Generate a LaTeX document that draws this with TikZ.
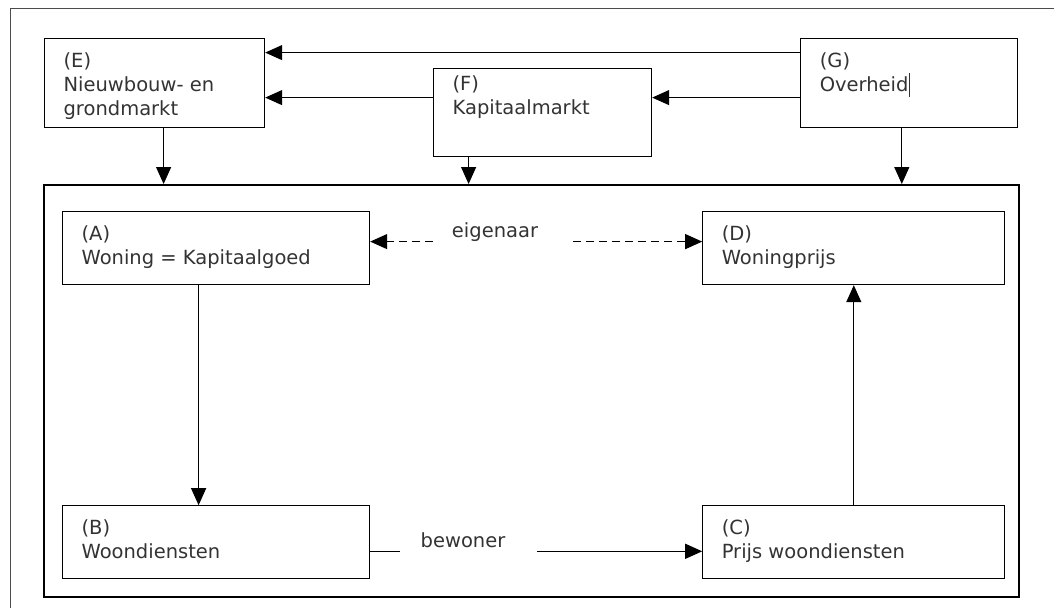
\documentclass[tikz,border=0pt]{standalone}
\usepackage{fontspec}
\setmainfont{DejaVu Sans}
\usepackage{tikz}
\usetikzlibrary{arrows.meta,positioning}

% box text: width, height, first baseline, text
\newcommand{\boxtext}[4]{\parbox[c][#2][t]{#1}{\raggedright\rule{0pt}{#3}#4}}

\begin{document}
\begin{tikzpicture}[
    x=1pt, y=-1pt,
    box/.style={
        draw,
        line width=1.2pt,
        rectangle,
        anchor=north west,
        inner xsep=19pt,
        inner ysep=0pt,
        text=black!80,
        font=\fontsize{19.5}{24}\selectfont
    },
    lbl/.style={
        text=black!80,
        inner xsep=0pt,
        font=\fontsize{19.5}{24}\selectfont
    },
    arrow/.style={
        -{Triangle[length=17pt,width=15pt]},
        line width=1.2pt
    },
    dasharrow/.style={
        -{Triangle[length=17pt,width=15pt]},
        line width=1.2pt,
        dash pattern=on 8pt off 5pt
    }
]
\useasboundingbox (0,0) rectangle (1054,608);

% Page frame
\draw[line width=0.8pt, black!70] (1054,8) -- (10,8) -- (10,608);

% Outer boxes
\node[box] (e) at (44,38) {\boxtext{182pt}{89pt}{29pt}{(E)\\Nieuwbouw- en\\grondmarkt}};
\node[box] (f) at (433,68) {\boxtext{180pt}{88pt}{22pt}{(F)\\Kapitaalmarkt}};
\node[box, right=535pt of e] (g) {\boxtext{179pt}{89pt}{29pt}{(G)\\Overheid\rule[-5pt]{0.8pt}{24pt}}};

% Housing market
\node[draw, line width=2.4pt, anchor=north west, inner sep=0pt,
    minimum width=975pt, minimum height=412pt] (market) at (43,184) {};

% Inner boxes
\node[box] (a) at (62,211) {\boxtext{269pt}{73pt}{29pt}{(A)\\Woning = Kapitaalgoed}};
\node[box, right=332pt of a] (d) {\boxtext{264pt}{73pt}{29pt}{(D)\\Woningprijs}};
\node[box, below=220pt of a] (b) {\boxtext{269pt}{73pt}{29pt}{(B)\\Woondiensten}};
\node[box, below=220pt of d] (c) {\boxtext{264pt}{73pt}{29pt}{(C)\\Prijs woondiensten}};

% Labels
\node[lbl, anchor=base, inner xsep=19pt] (own) at (495,237) {eigenaar};
\node[lbl, anchor=base, inner xsep=20.5pt] (res) at (463,547) {bewoner};

% Connector heights
\coordinate (ae) at ([yshift=6.5pt]a.east);
\coordinate (dw) at ([yshift=6.5pt]d.west);
\coordinate (be) at ([yshift=-9pt]b.east);
\coordinate (cw) at ([yshift=-9pt]c.west);

% Between outer boxes
\draw[arrow] ([yshift=30.5pt]g.west) -- ([yshift=30.5pt]g.west -| e.east);
\draw[arrow] ([yshift=-14.5pt]g.west) -- ([yshift=-14.5pt]g.west -| f.east);
\draw[arrow] ([yshift=15pt]f.west) -- ([yshift=15pt]f.west -| e.east);

% Outer boxes to market
\draw[arrow] ([xshift=9pt]e.south) -- ([xshift=9pt]e.south |- market.north);
\draw[arrow] ([xshift=-74pt]f.south) -- ([xshift=-74pt]f.south |- market.north);
\draw[arrow] ([xshift=-7.5pt]g.south) -- ([xshift=-7.5pt]g.south |- market.north);

% Inside the market
\draw[arrow] ([xshift=-17.5pt]a.south) -- ([xshift=-17.5pt]a.south |- b.north);
\draw[arrow] (c.north) -- (d.south);
\draw[dasharrow] (own.west |- ae) -- (ae);
\draw[dasharrow] ([xshift=16pt]own.east |- dw) -- (dw);
\draw[line width=1.2pt] (be) -- (be -| res.west);
\draw[arrow] ([xshift=11pt]res.east |- cw) -- (cw);

\end{tikzpicture}
\end{document}
